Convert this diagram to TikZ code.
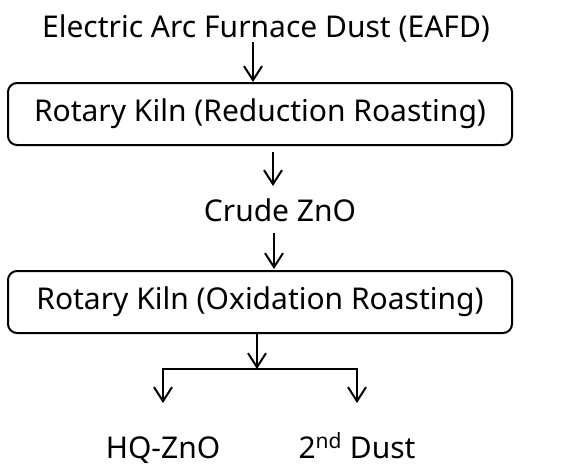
\documentclass[tikz,border=0pt]{standalone}
\usepackage{fontspec}
\setmainfont{Noto Sans}
\usetikzlibrary{arrows.meta,positioning,calc}

\begin{document}
\begin{tikzpicture}[
  x=1pt, y=-1pt,
  font=\fontsize{30}{36}\selectfont,
  label/.style={inner sep=0pt, align=center, anchor=base},
  kilnbox/.style={draw, line width=2pt, rounded corners=9pt, minimum width=504pt, minimum height=62pt, inner sep=0pt},
  arr/.style={-{Straight Barb[length=14pt, width=18pt, line width=2pt]}, line width=2pt}
]

\useasboundingbox (0,0) rectangle (565,474);

% stages
\node[label] (eafd) at (266,37) {Electric Arc Furnace Dust (EAFD)};
\node[kilnbox] (kiln1) at (260,114) {Rotary Kiln (Reduction Roasting)};
\node[label] (crude) at (280,221) {Crude ZnO};
\node[kilnbox] (kiln2) at (260,302) {Rotary Kiln (Oxidation Roasting)};
\node[label] (hq) at (163,458) {HQ-ZnO};
\node[label] (dust) at (357,458) {2\textsuperscript{nd} Dust};

% split point and branch ends
\coordinate (split) at (257,369);
\coordinate (hqend) at (hq.north |- 0,403);
\coordinate (dustend) at (dust.north |- 0,403);

% connectors
\draw[arr] (eafd.south -| 253,0) -- (kiln1.north -| 253,0);
\draw[arr, shorten <=6pt, shorten >=12pt] (kiln1.south -| 273,0) -- (crude.north -| 273,0);
\draw[arr, shorten <=11pt, shorten >=1pt] (crude.south -| 274,0) -- (kiln2.north -| 274,0);
\draw[arr] (kiln2.south -| split) -- (split);
\draw[arr] (split) -| (hqend);
\draw[arr] (split) -| (dustend);

\end{tikzpicture}
\end{document}
